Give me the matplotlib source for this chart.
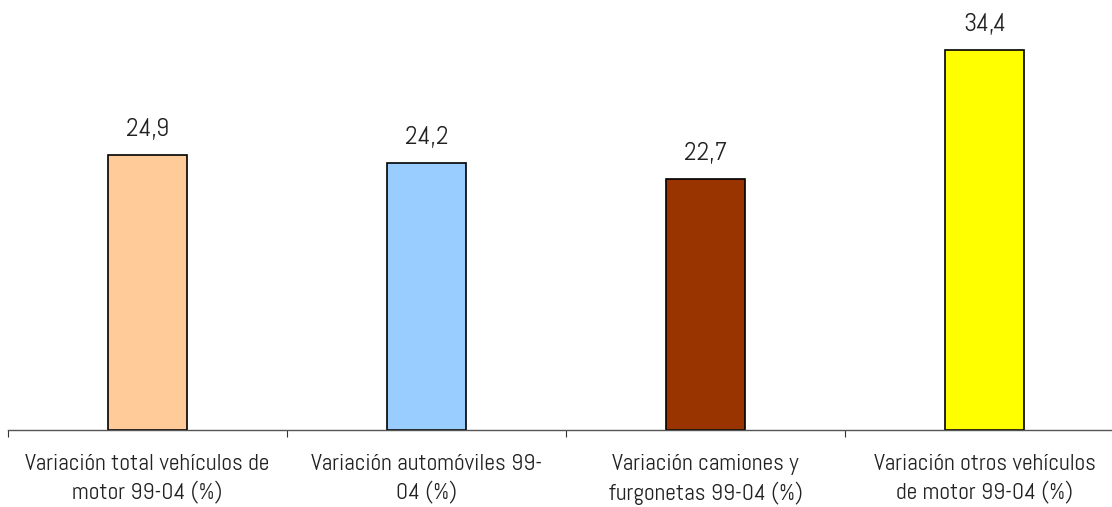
import matplotlib
matplotlib.use('Agg')
import matplotlib.pyplot as plt

# categories and values
categories = ['Variación total vehículos de\nmotor 99-04 (%)',
              'Variación automóviles 99-\n04 (%)',
              'Variación camiones y\nfurgonetas 99-04 (%)',
              'Variación otros vehículos\nde motor 99-04 (%)']
values = [24.9, 24.2, 22.7, 34.4]
value_labels = ['24,9', '24,2', '22,7', '34,4']
colors = ['#FFCC99', '#99CCFF', '#993300', '#FFFF00']

# condensed DIN-like face, falls back to DejaVu if missing
plt.rcParams['font.family'] = ['Abel', 'Roboto Condensed', 'DejaVu Sans']

fig = plt.figure(figsize=(11.12, 5.07), dpi=100)
# axes runs a bit past the right edge like the cropped original
ax = fig.add_axes([8 / 1112, 77 / 507, 1116 / 1112, 442 / 507])

x = range(len(values))
ax.bar(x, values, width=0.283, color=colors, edgecolor='black', linewidth=1.2)

for xi, v, lab in zip(x, values, value_labels):
    ax.annotate(lab, (xi, v), xytext=(0, 10), textcoords='offset points',
                ha='center', va='bottom', fontsize=18.5, color='#222222')

ax.set_xlim(-0.5, 3.5)
ax.set_ylim(0, 40)

for s in ['top', 'right', 'left']:
    ax.spines[s].set_visible(False)
ax.spines['bottom'].set_color('#555555')
ax.spines['bottom'].set_linewidth(1)
ax.set_yticks([])

ax.set_xticks([-0.5, 0.5, 1.5, 2.5, 3.5])
ax.set_xticklabels([])
ax.tick_params(axis='x', which='major', direction='out', length=5, color='#333333')
ax.set_xticks(list(x), minor=True)
ax.set_xticklabels(categories, minor=True, fontsize=17, color='#222222', linespacing=1.35)
ax.tick_params(axis='x', which='minor', length=0, pad=17)

plt.savefig('out.png', dpi=100)
